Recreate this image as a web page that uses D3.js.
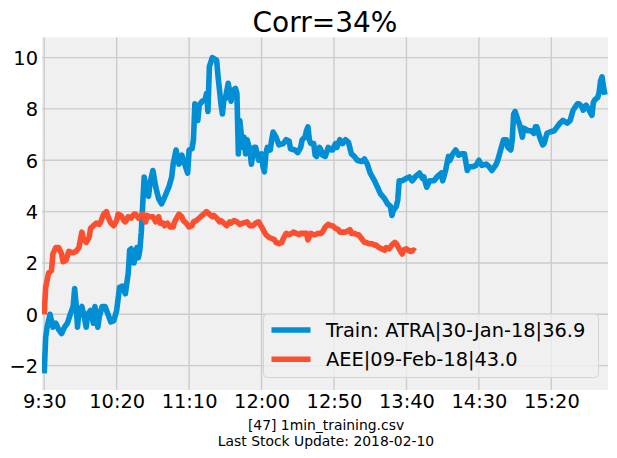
<!DOCTYPE html>
<html>
<head>
<meta charset="utf-8">
<script src="https://cdn.jsdelivr.net/npm/d3@7"></script>
<style>
html,body{margin:0;padding:0;background:#ffffff;}
svg{display:block;font-family:"DejaVu Sans",sans-serif;}
</style>
</head>
<body>
<svg id="chart" width="617" height="458"></svg>
<script>
// ---- data (minutes after 9:30, value) ----
const trainMinutes = [0,1,2,4,6,8,10,12,14,16,18,20,21,22,23,24,26,28,29,30,32,34,35,36,37,38,40,42,44,46,48,50,52,54,56,57,58,59,60,61,62,63,64,65,66,67,68,69,71,72,73,75,77,79,81,83,86,88,89,91,93,95,97,99,100,102,103,104,106,107,109,111,112,113,114,116,119,120,122,123,124,125,127,129,130,132,133,134,135,136,137,138,139,140,142,143,144,145,146,147,148,150,151,152,153,154,156,157,158,160,162,165,167,169,170,173,175,177,178,180,181,182,183,184,186,187,188,190,191,192,194,196,198,199,201,202,204,206,208,210,212,214,216,219,221,223,225,228,230,232,235,237,239,240,241,243,244,245,247,250,252,254,256,259,261,262,264,266,269,271,274,275,277,279,280,282,284,286,288,290,292,293,296,298,300,302,305,307,309,312,313,315,317,319,320,322,323,324,325,327,328,330,331,334,336,338,339,340,342,344,345,347,349,352,354,356,358,361,363,365,368,369,371,372,374,376,378,379,380,382,383,384,385,386,387];
const trainValues = [-2.3,-0.9,-0.5,0.0,-0.5,-0.35,-0.6,-0.75,-0.5,-0.35,0.0,0.3,1.0,0.4,-0.5,0.15,0.3,-0.2,-0.5,0.0,0.15,-0.35,0.3,0.0,-0.5,-0.1,0.3,0.3,0.0,-0.3,-0.25,0.15,1.05,1.1,0.8,1.2,1.6,2.5,2.55,2.35,2.0,2.35,2.6,2.2,2.5,3.2,4.3,5.35,4.7,4.6,5.1,5.6,4.95,4.5,4.3,4.55,4.95,5.35,5.85,6.4,5.85,6.2,5.85,5.5,6.4,6.45,6.8,8.2,7.55,8.15,8.3,8.35,8.6,7.9,9.65,10.0,9.9,9.25,8.2,7.8,8.35,8.4,9.0,8.3,8.7,8.8,8.6,6.25,7.55,7.0,6.5,6.9,6.25,6.8,6.4,5.85,6.25,6.5,6.5,6.25,6.0,6.25,5.75,5.55,6.25,6.5,6.4,6.8,7.1,6.9,6.6,6.65,6.8,6.75,6.45,6.4,6.3,6.5,6.8,6.9,7.15,7.3,6.8,6.65,6.65,6.2,6.15,6.5,6.4,6.2,6.15,6.5,6.4,6.4,6.65,6.5,6.8,6.65,6.8,6.7,6.25,6.15,6.0,5.95,6.05,5.85,5.5,5.2,4.95,4.7,4.5,4.3,4.2,3.85,4.05,4.2,4.45,5.2,5.2,5.3,5.35,5.2,5.35,5.5,5.3,5.35,4.95,5.2,5.2,5.35,5.5,5.2,5.6,6.15,6.0,6.25,6.4,6.2,6.25,6.25,5.6,5.75,5.75,5.8,6.0,5.8,5.85,5.75,5.6,5.85,6.0,6.4,6.8,6.8,6.5,6.4,6.8,7.8,7.9,7.55,7.4,6.9,7.25,7.15,7.15,7.05,7.3,7.3,6.9,6.6,6.65,7.05,7.1,7.15,7.3,7.45,7.55,7.45,7.55,7.95,8.2,8.2,8.1,7.95,8.15,7.95,7.75,8.25,8.35,8.45,8.65,9.1,9.25,8.85,8.55];

const aeeMinutes = [0,1,3,5,6,8,10,12,13,15,17,19,20,22,24,26,27,29,31,32,34,36,38,39,41,43,44,46,48,50,51,53,55,56,58,60,62,63,65,67,68,70,71,73,75,77,79,80,82,83,85,87,89,90,92,93,95,96,98,100,102,103,105,107,109,110,112,114,116,117,119,121,122,124,126,128,129,131,133,135,137,140,142,144,146,148,150,152,153,155,157,159,160,162,164,165,167,169,171,172,174,176,177,179,181,182,184,186,187,189,191,192,194,196,198,199,201,203,204,206,208,211,212,214,216,217,219,221,222,224,226,228,229,231,233,235,236,238,240,242,243,245,247,248,250,251,253,255,256];
const aeeValues = [0.0,1.05,1.6,1.7,2.35,2.6,2.6,2.35,2.05,2.1,2.45,2.4,2.4,2.45,2.6,3.2,2.95,2.8,3.0,3.35,3.45,3.55,3.5,3.6,3.9,4.0,3.8,3.55,3.45,3.65,3.9,3.85,3.65,3.6,3.8,3.75,3.9,3.9,3.75,3.85,3.9,3.6,3.85,3.8,3.8,3.6,3.8,3.55,3.55,3.45,3.55,3.4,3.4,3.6,3.8,3.9,3.8,3.65,3.55,3.4,3.45,3.6,3.65,3.75,3.85,3.9,4.0,3.9,3.8,3.85,3.75,3.6,3.65,3.55,3.45,3.6,3.55,3.65,3.6,3.5,3.55,3.6,3.45,3.45,3.55,3.6,3.4,3.2,3.1,3.0,2.95,2.9,2.8,2.75,2.8,2.95,3.15,3.1,3.15,3.2,3.15,3.1,3.15,3.15,3.15,2.9,3.15,3.1,3.1,3.15,3.15,3.2,3.4,3.5,3.45,3.45,3.35,3.3,3.2,3.2,3.2,3.3,3.15,3.15,3.1,3.1,2.95,2.8,2.8,2.75,2.75,2.7,2.7,2.6,2.55,2.5,2.6,2.55,2.7,2.8,2.75,2.55,2.35,2.5,2.55,2.5,2.45,2.5,2.45];

const xTickMinutes = [0,50,100,150,200,250,300,350];
const xTickLabels = ["9:30","10:20","11:10","12:00","12:50","13:40","14:30","15:20"];
const yTickValues = [-2,0,2,4,6,8,10];
const seriesNames = ["Train: ATRA|30-Jan-18|36.9","AEE|09-Feb-18|43.0"];
const seriesColors = ["#008fd5","#fc4f30"];
const titleText = "Corr=34%";
const xLabelLines = ["[47] 1min_training.csv","Last Stock Update: 2018-02-10"];

// ---- layout ----
const plot = {left:42, right:608, top:37.3, bottom:390};
const svg = d3.select("#chart");

const x = d3.scaleLinear().domain([-1.52, 389.1]).range([plot.left, plot.right]);
const y = d3.scaleLinear().domain([-2.95, 10.79]).range([plot.bottom, plot.top]);

// axes background
svg.append("rect").attr("x",plot.left).attr("y",plot.top)
  .attr("width",plot.right-plot.left).attr("height",plot.bottom-plot.top)
  .attr("fill","#f0f0f0");

// grid
const grid = svg.append("g");
grid.selectAll(".vg").data(xTickMinutes).join("line")
  .attr("x1",d=>x(d)).attr("x2",d=>x(d)).attr("y1",plot.top).attr("y2",plot.bottom)
  .attr("stroke","#cbcbcb").attr("stroke-width",1.4);
grid.selectAll(".hg").data(yTickValues).join("line")
  .attr("x1",plot.left).attr("x2",plot.right).attr("y1",d=>y(d)).attr("y2",d=>y(d))
  .attr("stroke","#cbcbcb").attr("stroke-width",1.4);

// axes via d3 axis generators (no tick marks / domain)
const xAxis = d3.axisBottom(x).tickValues(xTickMinutes)
  .tickFormat((d,i)=>xTickLabels[i]).tickSize(0).tickPadding(0);
const gx = svg.append("g").attr("transform",`translate(0,${plot.bottom})`).call(xAxis);
gx.select(".domain").remove();
gx.selectAll("text").attr("font-family","DejaVu Sans").attr("font-size","19.4px")
  .attr("fill","#000").attr("dy",null).attr("y",18);

const yAxis = d3.axisLeft(y).tickValues(yTickValues)
  .tickFormat(d=> d<0 ? "\u2212"+Math.abs(d) : String(d)).tickSize(0).tickPadding(0);
const gy = svg.append("g").attr("transform",`translate(${plot.left},0)`).call(yAxis);
gy.select(".domain").remove();
gy.selectAll("text").attr("font-family","DejaVu Sans").attr("font-size","19.4px")
  .attr("fill","#000").attr("x",-4).attr("dy","0.36em");

// lines
const line = d3.line().x(d=>x(d[0])).y(d=>y(d[1]));
const clip = svg.append("clipPath").attr("id","clip").append("rect")
  .attr("x",plot.left).attr("y",plot.top).attr("width",plot.right-plot.left).attr("height",plot.bottom-plot.top);
const seriesData = [
  d3.zip(trainMinutes, trainValues),
  d3.zip(aeeMinutes, aeeValues)
];
svg.append("g").attr("clip-path","url(#clip)").selectAll("path").data(seriesData).join("path")
  .attr("d",line).attr("fill","none")
  .attr("stroke",(d,i)=>seriesColors[i]).attr("stroke-width",5.6)
  .attr("stroke-linejoin","round").attr("stroke-linecap","butt");

// legend
const lg = svg.append("g");
lg.append("rect").attr("x",263.5).attr("y",314).attr("width",335).attr("height",63.5)
  .attr("rx",4).attr("ry",4)
  .attr("fill","#f0f0f0").attr("fill-opacity",0.8)
  .attr("stroke","#d4d4d4").attr("stroke-width",1);
seriesNames.forEach((name,i)=>{
  const cy = 330 + i*29.3;
  lg.append("line").attr("x1",271.5).attr("x2",310.5).attr("y1",cy).attr("y2",cy)
    .attr("stroke",seriesColors[i]).attr("stroke-width",5.6);
  lg.append("text").attr("x",326).attr("y",cy).attr("dy","0.36em")
    .attr("font-size","19.4px").attr("fill","#000").text(name);
});

// title
svg.append("text").attr("x",(plot.left+plot.right)/2).attr("y",31.5)
  .attr("text-anchor","middle").attr("font-size","28px").attr("fill","#000").text(titleText);

// x label (two lines)
xLabelLines.forEach((t,i)=>{
  svg.append("text").attr("x",(plot.left+plot.right)/2+1).attr("y",430+i*16)
    .attr("text-anchor","middle").attr("font-size","13.9px").attr("fill","#000").text(t);
});
</script>
</body>
</html>
